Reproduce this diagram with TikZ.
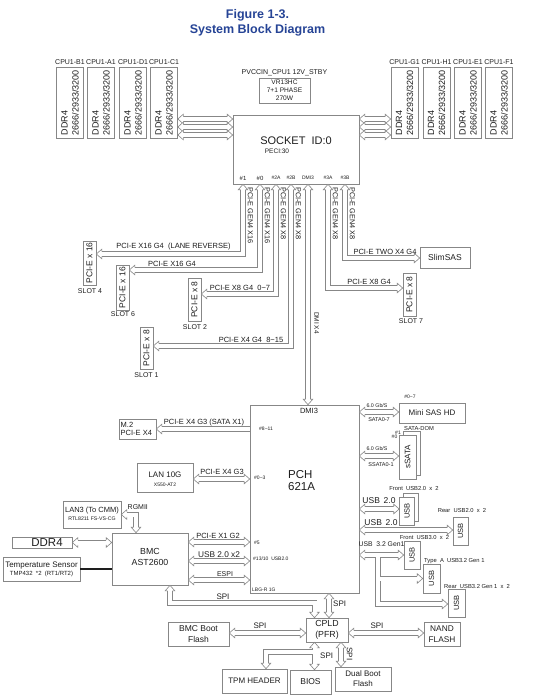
\documentclass[tikz,border=0pt]{standalone}
\usepackage{fontspec}
\setmainfont{Liberation Sans}
\definecolor{lc}{RGB}{135,135,135}
\definecolor{tblue}{RGB}{38,68,150}
\definecolor{tx}{RGB}{30,30,30}
\newcommand\fz[2]{\fontsize{#1}{#2}\selectfont}
\tikzset{
  box/.style={draw=lc, line width=0.6pt, fill=white, inner sep=0pt, align=center, text=tx},
  lbl/.style={inner sep=0pt, text=tx},
  band/.style={draw=lc, line width=0.6pt, double=white, double distance=4pt},
  ss/.style={shorten <=5.5pt},
  se/.style={shorten >=5.5pt},
  bo/.style={draw=lc, line width=5.2pt},
  bi/.style={draw=white, line width=4pt},
  hd/.pic={
    \fill[white] (-5.5,-4.8) -- (0,0) -- (-5.5,4.8) -- cycle;
    \draw[lc, line width=0.6pt, line join=miter] (-5.5,2.3) -- (-5.5,4.8) -- (0,0) -- (-5.5,-4.8) -- (-5.5,-2.3);
  },
}
\begin{document}
\begin{tikzpicture}[x=1pt,y=-1pt]
\useasboundingbox (0,0) rectangle (544,700);
\fill[white] (0,0) rectangle (544,700);

% title
\node[lbl,text=tblue,font=\bfseries\fz{12.5}{14}] (t1) at (257.5,15) {Figure 1-3.};
\node[lbl,text=tblue,font=\bfseries\fz{12.5}{14}] (t2) at (257.5,30) {System Block Diagram};

% DIMMs
\foreach \x/\n in {70/B1,101/A1,133/D1,164/C1,404.5/G1,436.5/H1,468/E1,499/F1}{
  \node[box,minimum width=27pt,minimum height=71pt] (d\n) at (\x,102.5) {};
  \node[lbl,font=\fz{7}{8}] (dl\n) at (\x,62) {CPU1-\n};
  \node[lbl,rotate=90,anchor=west,align=left,font=\fz{9}{11}] (dt\n) at (\x,135.5) {DDR4\\2666/2933/3200};
}

% VR
\node[lbl,font=\fz{7}{8}] (vrl) at (284.5,73) {PVCCIN\_CPU1 12V\_STBY};
\node[box,minimum width=51pt,minimum height=25pt,font=\fz{6.6}{7.8}] (vr) at (284.5,90.5) {VR13HC\\7+1 PHASE\\270W};

% socket
\node[box,minimum width=126pt,minimum height=69pt] (sock) at (296,149.5) {};
\node[lbl,font=\fz{11}{13}] (sockt) at (296,141) {SOCKET\hspace{6pt}ID:0};
\node[lbl,font=\fz{6.5}{8}] (peci) at (277,151) {PECI:30};
\node[lbl,font=\fz{6}{7}] (lp1) at (243,178) {\#1};
\node[lbl,font=\fz{6}{7}] (lp0) at (260,178) {\#0};
\node[lbl,font=\fz{5}{6}] (lp2a) at (276,178) {\#2A};
\node[lbl,font=\fz{5}{6}] (lp2b) at (291,178) {\#2B};
\node[lbl,font=\fz{5}{6}] (lpd) at (308,178) {DMI3};
\node[lbl,font=\fz{5}{6}] (lp3a) at (328,178) {\#3A};
\node[lbl,font=\fz{5}{6}] (lp3b) at (345,178) {\#3B};

% memory buses
\foreach \y in {119,127,135}{
  \draw[band,ss,se] (dC1.east |- 0,\y) -- (sock.west |- 0,\y);
  \pic[rotate=180] at (dC1.east |- 0,\y) {hd};
  \pic at (sock.west |- 0,\y) {hd};
  \draw[band,ss,se] (sock.east |- 0,\y) -- (dG1.west |- 0,\y);
  \pic[rotate=180] at (sock.east |- 0,\y) {hd};
  \pic at (dG1.west |- 0,\y) {hd};
}

% slots
\node[box,minimum width=13pt,minimum height=44pt] (slot4) at (89.5,263) {};
\node[lbl,rotate=90,font=\fz{8.5}{10}] (slot4t) at (slot4) {PCI-E x 16};
\node[lbl,font=\fz{7}{8}] (slot4l) at (90,291) {SLOT 4};
\node[box,minimum width=13pt,minimum height=45pt] (slot6) at (122.5,287.5) {};
\node[lbl,rotate=90,font=\fz{8.5}{10}] (slot6t) at (slot6) {PCI-E x 16};
\node[lbl,font=\fz{7}{8}] (slot6l) at (123,314) {SLOT 6};
\node[box,minimum width=13pt,minimum height=43pt] (slot2) at (194.5,299.5) {};
\node[lbl,rotate=90,font=\fz{8.5}{10}] (slot2t) at (slot2) {PCI-E x 8};
\node[lbl,font=\fz{7}{8}] (slot2l) at (195,327) {SLOT 2};
\node[box,minimum width=13pt,minimum height=42pt] (slot1) at (146.5,348) {};
\node[lbl,rotate=90,font=\fz{8.5}{10}] (slot1t) at (slot1) {PCI-E x 8};
\node[lbl,font=\fz{7}{8}] (slot1l) at (146.5,375) {SLOT 1};
\node[box,minimum width=13pt,minimum height=43pt] (slot7) at (409.5,294.5) {};
\node[lbl,rotate=90,font=\fz{8.5}{10}] (slot7t) at (slot7) {PCI-E x 8};
\node[lbl,font=\fz{7}{8}] (slot7l) at (411,321) {SLOT 7};
\node[box,minimum width=50pt,minimum height=21pt,font=\fz{8.5}{10}] (slim) at (445,257.5) {SlimSAS};

% socket port buses
\foreach \px/\py/\tg/\an/\ang in {243/254/slot4/east/180, 260/270/slot6/east/180, 276/294/slot2/east/180, 291/346/slot1/east/180, 328/288/slot7/west/0, 345/258/slim/west/0}{
  \draw[band,ss,se] (\px,0 |- sock.south) |- (\tg.\an |- 0,\py);
  \pic[rotate=90] at (\px,0 |- sock.south) {hd};
  \pic[rotate=\ang] at (\tg.\an |- 0,\py) {hd};
}
\node[lbl,rotate=-90,anchor=south west,font=\fz{7.3}{9}] (v1) at (247.5,187) {PCI-E GEN4 X16};
\node[lbl,rotate=-90,anchor=south west,font=\fz{7.3}{9}] (v0) at (264.5,187) {PCI-E GEN4 X16};
\node[lbl,rotate=-90,anchor=south west,font=\fz{7.3}{9}] (v2a) at (280.5,187) {PCI-E GEN4 X8};
\node[lbl,rotate=-90,anchor=south west,font=\fz{7.3}{9}] (v2b) at (295.5,187) {PCI-E GEN4 X8};
\node[lbl,rotate=-90,anchor=south west,font=\fz{7.3}{9}] (v3a) at (332.5,187) {PCI-E GEN4 X8};
\node[lbl,rotate=-90,anchor=south west,font=\fz{7.3}{9}] (v3b) at (349.5,187) {PCI-E GEN4 X8};
\node[lbl,font=\fz{7.5}{9}] (h1) at (173.5,247) {PCI-E X16 G4 \ (LANE REVERSE)};
\node[lbl,font=\fz{7.5}{9}] (h0) at (172,263.5) {PCI-E X16 G4};
\node[lbl,font=\fz{7.5}{9}] (h2a) at (240,288) {PCI-E X8 G4 \ 0\textasciitilde7};
\node[lbl,font=\fz{7.5}{9}] (h2b) at (251,339.5) {PCI-E X4 G4 \ 8\textasciitilde15};
\node[lbl,font=\fz{7.5}{9}] (h3a) at (369,281.5) {PCI-E X8 G4};
\node[lbl,font=\fz{7.5}{9}] (h3b) at (385,251.5) {PCI-E TWO X4 G4};

% PCH
\node[box,minimum width=109pt,minimum height=188pt] (pch) at (304.5,499) {};
\node[lbl,font=\fz{7.5}{9}] (pchd) at (309,411) {DMI3};
\node[lbl,anchor=north west,align=left,font=\fz{11.5}{12.5}] (pcht) at (288,470) {PCH\\621A};
\node[lbl,anchor=west,font=\fz{5}{6}] (pp1) at (259,429) {\#8\textasciitilde11};
\node[lbl,anchor=west,font=\fz{5}{6}] (pp2) at (254,478) {\#0\textasciitilde3};
\node[lbl,anchor=west,font=\fz{5}{6}] (pp3) at (254,543) {\#5};
\node[lbl,anchor=west,font=\fz{5}{6}] (pp4) at (253,558.5) {\#13/10 \ USB2.0};
\node[lbl,anchor=west,font=\fz{5}{6}] (pp5) at (252,589.5) {LBG-R 1G};

% DMI
\draw[band,ss,se] (308,0 |- sock.south) -- (308,0 |- pch.north);
\pic[rotate=90] at (308,0 |- sock.south) {hd};
\pic[rotate=-90] at (308,0 |- pch.north) {hd};
\node[lbl,rotate=-90,font=\fz{6.5}{8}] (dmix) at (316.5,323) {DMI X4};

% M.2
\node[box,minimum width=37pt,minimum height=20pt] (m2) at (137.5,429) {};
\node[lbl,anchor=west,align=left,font=\fz{7.5}{8.5}] (m2t) at (120.5,429) {M.2\\PCI-E X4};
\draw[band,se] (pch.west |- m2.east) -- (m2.east);
\pic[rotate=180] at (m2.east) {hd};
\node[lbl,font=\fz{7.5}{9}] (m2l) at (204,422.5) {PCI-E X4 G3 (SATA X1)};

% LAN 10G
\node[box,minimum width=56pt,minimum height=29pt] (lan10) at (165,477.5) {};
\node[lbl,font=\fz{8}{9}] (lan10t) at (165,475) {LAN 10G};
\node[lbl,font=\fz{5}{6}] (lan10s) at (165,484.5) {X550-AT2};
\draw[band,ss,se] (lan10.east |- 0,479) -- (pch.west |- 0,479);
\pic[rotate=180] at (lan10.east |- 0,479) {hd};
\pic at (pch.west |- 0,479) {hd};
\node[lbl,font=\fz{7.5}{9}] (lan10l) at (222,472) {PCI-E X4 G3};

% BMC
\node[box,minimum width=76pt,minimum height=52pt] (bmc) at (150,559) {};
\node[lbl,align=center,font=\fz{8.8}{11}] (bmct) at (150,556.5) {BMC\\AST2600};

% LAN3
\node[box,minimum width=58pt,minimum height=27pt] (lan3) at (92,514.5) {};
\node[lbl,font=\fz{7.5}{9}] (lan3t) at (92,511) {LAN3 (To CMM)};
\node[lbl,font=\fz{5.2}{6}] (lan3s) at (92,519) {RTL8211 FS-VS-CG};
\draw[band,ss,se] (lan3.east) -| (136,0 |- bmc.north);
\pic[rotate=180] at (lan3.east) {hd};
\pic[rotate=-90] at (136,0 |- bmc.north) {hd};
\node[lbl,anchor=west,font=\fz{7}{8}] (rgmii) at (127.5,507.5) {RGMII};

% DDR4
\node[box,minimum width=60pt,minimum height=11pt] (ddr) at (42,542.5) {};
\node[lbl,font=\fz{11.5}{13}] (ddrt) at (47,543) {DDR4};
\draw[band,ss,se] (ddr.east) -- (bmc.west |- ddr.east);
\pic[rotate=180] at (ddr.east) {hd};
\pic at (bmc.west |- ddr.east) {hd};

% temperature sensor
\node[box,minimum width=77pt,minimum height=24pt] (temp) at (41.5,569) {};
\node[lbl,font=\fz{8}{9}] (tempt) at (41.5,565.5) {Temperature Sensor};
\node[lbl,font=\fz{6}{7}] (temps) at (41.5,574) {TMP432 \ *2 \ (RT1/RT2)};
\draw[line width=1.2pt,tx] (temp.east) -- (bmc.west |- temp.east);

% BMC - PCH
\foreach \y in {542,561,580}{
  \draw[band,ss,se] (bmc.east |- 0,\y) -- (pch.west |- 0,\y);
  \pic[rotate=180] at (bmc.east |- 0,\y) {hd};
  \pic at (pch.west |- 0,\y) {hd};
}
\node[lbl,font=\fz{7.5}{9}] (bl1) at (218,536) {PCI-E X1 G2};
\node[lbl,font=\fz{8.3}{9}] (bl2) at (219,555) {USB 2.0 x2};
\node[lbl,font=\fz{7}{9}] (bl3) at (225,574) {ESPI};

% CPLD and flashes
\node[box,minimum width=42pt,minimum height=24pt,font=\fz{8.8}{11}] (cpld) at (327,630) {CPLD\\(PFR)};
\node[box,minimum width=61pt,minimum height=24pt,font=\fz{8.5}{10.5}] (bmcf) at (198.5,634) {BMC Boot\\Flash};
\node[box,minimum width=36pt,minimum height=24pt,font=\fz{8.3}{10.5}] (nand) at (442,634) {NAND\\FLASH};
\node[box,minimum width=65pt,minimum height=24pt,font=\fz{8}{10}] (tpm) at (254.5,681) {TPM HEADER};
\node[box,minimum width=41pt,minimum height=24pt,font=\fz{8.5}{10}] (bios) at (310.5,682) {BIOS};
\node[box,minimum width=56pt,minimum height=24pt,font=\fz{8}{10}] (dual) at (363,679) {Dual Boot\\Flash};

% SPI BMC - CPLD
\draw[band,ss,se] (170,0 |- bmc.south) |- (314.5,603) -- (314.5,0 |- cpld.north);
\pic[rotate=90] at (170,0 |- bmc.south) {hd};
\pic[rotate=-90] at (314.5,0 |- cpld.north) {hd};
\node[lbl,font=\fz{8}{9}] (spi1) at (223,596.5) {SPI};
% SPI PCH - CPLD
\draw[band,ss,se] (329,0 |- pch.south) -- (329,0 |- cpld.north);
\pic[rotate=90] at (329,0 |- pch.south) {hd};
\pic[rotate=-90] at (329,0 |- cpld.north) {hd};
\node[lbl,anchor=west,font=\fz{8}{9}] (spi2) at (333,604) {SPI};
% SPI BMC boot
\draw[band,ss,se] (bmcf.east |- 0,633) -- (cpld.west |- 0,633);
\pic[rotate=180] at (bmcf.east |- 0,633) {hd};
\pic at (cpld.west |- 0,633) {hd};
\node[lbl,font=\fz{8}{9}] (spi3) at (260,626) {SPI};
% SPI NAND
\draw[band,ss,se] (cpld.east |- 0,633) -- (nand.west |- 0,633);
\pic[rotate=180] at (cpld.east |- 0,633) {hd};
\pic at (nand.west |- 0,633) {hd};
\node[lbl,font=\fz{8}{9}] (spi4) at (377,626) {SPI};
% SPI BIOS + TPM (merged bands)
\draw[bo,ss,se] (314.5,0 |- cpld.south) -- (314.5,0 |- bios.north);
\draw[bo,se] (314.5,652) -| (266,0 |- tpm.north);
\draw[bi,ss,se] (314.5,0 |- cpld.south) -- (314.5,0 |- bios.north);
\draw[bi,se] (314.5,652) -| (266,0 |- tpm.north);
\pic[rotate=90] at (314.5,0 |- cpld.south) {hd};
\pic[rotate=-90] at (314.5,0 |- bios.north) {hd};
\pic[rotate=-90] at (266,0 |- tpm.north) {hd};
\node[lbl,anchor=west,font=\fz{8}{9}] (spi5) at (320,656) {SPI};
% SPI dual boot
\draw[band,ss,se] (341,0 |- cpld.south) -- (341,0 |- dual.north);
\pic[rotate=90] at (341,0 |- cpld.south) {hd};
\pic[rotate=-90] at (341,0 |- dual.north) {hd};
\node[lbl,rotate=-90,font=\fz{8}{9}] (spi6) at (349.5,654) {SPI};

% Mini SAS HD
\node[box,minimum width=66pt,minimum height=20pt,font=\fz{8}{9}] (sas) at (432,413) {Mini SAS HD};
\node[lbl,font=\fz{5}{6}] (sasl) at (410,397) {\#0\textasciitilde7};
\draw[band,ss,se] (pch.east |- 0,412) -- (sas.west |- 0,412);
\pic[rotate=180] at (pch.east |- 0,412) {hd};
\pic at (sas.west |- 0,412) {hd};
\node[lbl,font=\fz{5.3}{6}] (sas1) at (377,405.5) {6.0 Gb/S};
\node[lbl,font=\fz{5.5}{6}] (sas2) at (379,419.5) {SATA0-7};

% sSATA
\node[box,minimum width=17pt,minimum height=44pt] (ssb) at (411.5,453) {};
\node[box,minimum width=17pt,minimum height=44pt] (ssata) at (407.5,457) {};
\node[lbl,rotate=90,font=\fz{8}{9}] (ssatat) at (ssata) {sSATA};
\node[lbl,font=\fz{5.8}{7}] (sdom) at (419,428) {SATA-DOM};
\node[lbl,font=\fz{5}{6}] (sd1) at (398,433) {\#1};
\node[lbl,font=\fz{5}{6}] (sd0) at (394.5,437) {\#0};
\draw[band,ss,se] (pch.east |- 0,456) -- (ssata.west |- 0,456);
\pic[rotate=180] at (pch.east |- 0,456) {hd};
\pic at (ssata.west |- 0,456) {hd};
\node[lbl,font=\fz{5.3}{6}] (ss1) at (377,448.5) {6.0 Gb/S};
\node[lbl,font=\fz{5.5}{6}] (ss2) at (381,465) {SSATA0-1};

% USB 2.0 front
\node[box,minimum width=15pt,minimum height=28pt] (uf2b) at (411,507) {};
\node[box,minimum width=15pt,minimum height=28pt] (uf2) at (407,511) {};
\node[lbl,rotate=90,font=\fz{7.5}{9}] (uf2t) at (uf2) {USB};
\node[lbl,font=\fz{5.8}{7}] (uf2l) at (414,488) {Front \ USB2.0 \ x \ 2};
\draw[band,ss,se] (pch.east |- 0,509) -- (uf2.west |- 0,509);
\pic[rotate=180] at (pch.east |- 0,509) {hd};
\pic at (uf2.west |- 0,509) {hd};
\node[lbl,font=\fz{8.5}{10}] (u2a) at (379,500.5) {USB \,2.0};

% USB 2.0 rear
\node[box,minimum width=15pt,minimum height=28pt] (ur2) at (460.5,531) {};
\node[lbl,rotate=90,font=\fz{7.5}{9}] (ur2t) at (ur2) {USB};
\node[lbl,font=\fz{5.8}{7}] (ur2l) at (462,510) {Rear \ USB2.0 \ x \ 2};
\draw[band,ss,se] (pch.east |- 0,530) -- (ur2.west |- 0,530);
\pic[rotate=180] at (pch.east |- 0,530) {hd};
\pic at (ur2.west |- 0,530) {hd};
\node[lbl,font=\fz{8.5}{10}] (u2b) at (381,522.5) {USB \,2.0};

% USB 3.2
\node[box,minimum width=16pt,minimum height=28pt] (uf3) at (412,555) {};
\node[lbl,rotate=90,font=\fz{7.5}{9}] (uf3t) at (uf3) {USB};
\node[lbl,font=\fz{5.8}{7}] (uf3l) at (424.5,537) {Front \ USB3.0 \ x \ 2};
\node[box,minimum width=17pt,minimum height=29pt] (uta) at (431.5,578.5) {};
\node[lbl,rotate=90,font=\fz{7.5}{9}] (utat) at (uta) {USB};
\node[lbl,anchor=west,font=\fz{5.8}{7}] (utal) at (424,561.5) {Type \ A \ USB3.2 Gen 1};
\node[box,minimum width=17pt,minimum height=28pt] (ur3) at (456.5,603) {};
\node[lbl,rotate=90,font=\fz{7.5}{9}] (ur3t) at (ur3) {USB};
\node[lbl,anchor=west,font=\fz{5.8}{7}] (ur3l) at (444,586) {Rear \ USB3.2 Gen 1 \ x \ 2};
\node[lbl,font=\fz{6.8}{8}] (u3l) at (381.5,544) {USB \ 3.2 Gen1};
\draw[bo,ss,se] (pch.east |- 0,555) -- (uf3.west |- 0,555);
\draw[bo,se] (378,555) |- (ur3.west |- 0,604);
\draw[bo,se] (378,578.5) -- (uta.west |- 0,578.5);
\draw[bi,ss,se] (pch.east |- 0,555) -- (uf3.west |- 0,555);
\draw[bi,se] (378,555) |- (ur3.west |- 0,604);
\draw[bi,se] (378,578.5) -- (uta.west |- 0,578.5);
\pic[rotate=180] at (pch.east |- 0,555) {hd};
\pic at (uf3.west |- 0,555) {hd};
\pic at (uta.west |- 0,578.5) {hd};
\pic at (ur3.west |- 0,604) {hd};

\end{tikzpicture}
\end{document}
